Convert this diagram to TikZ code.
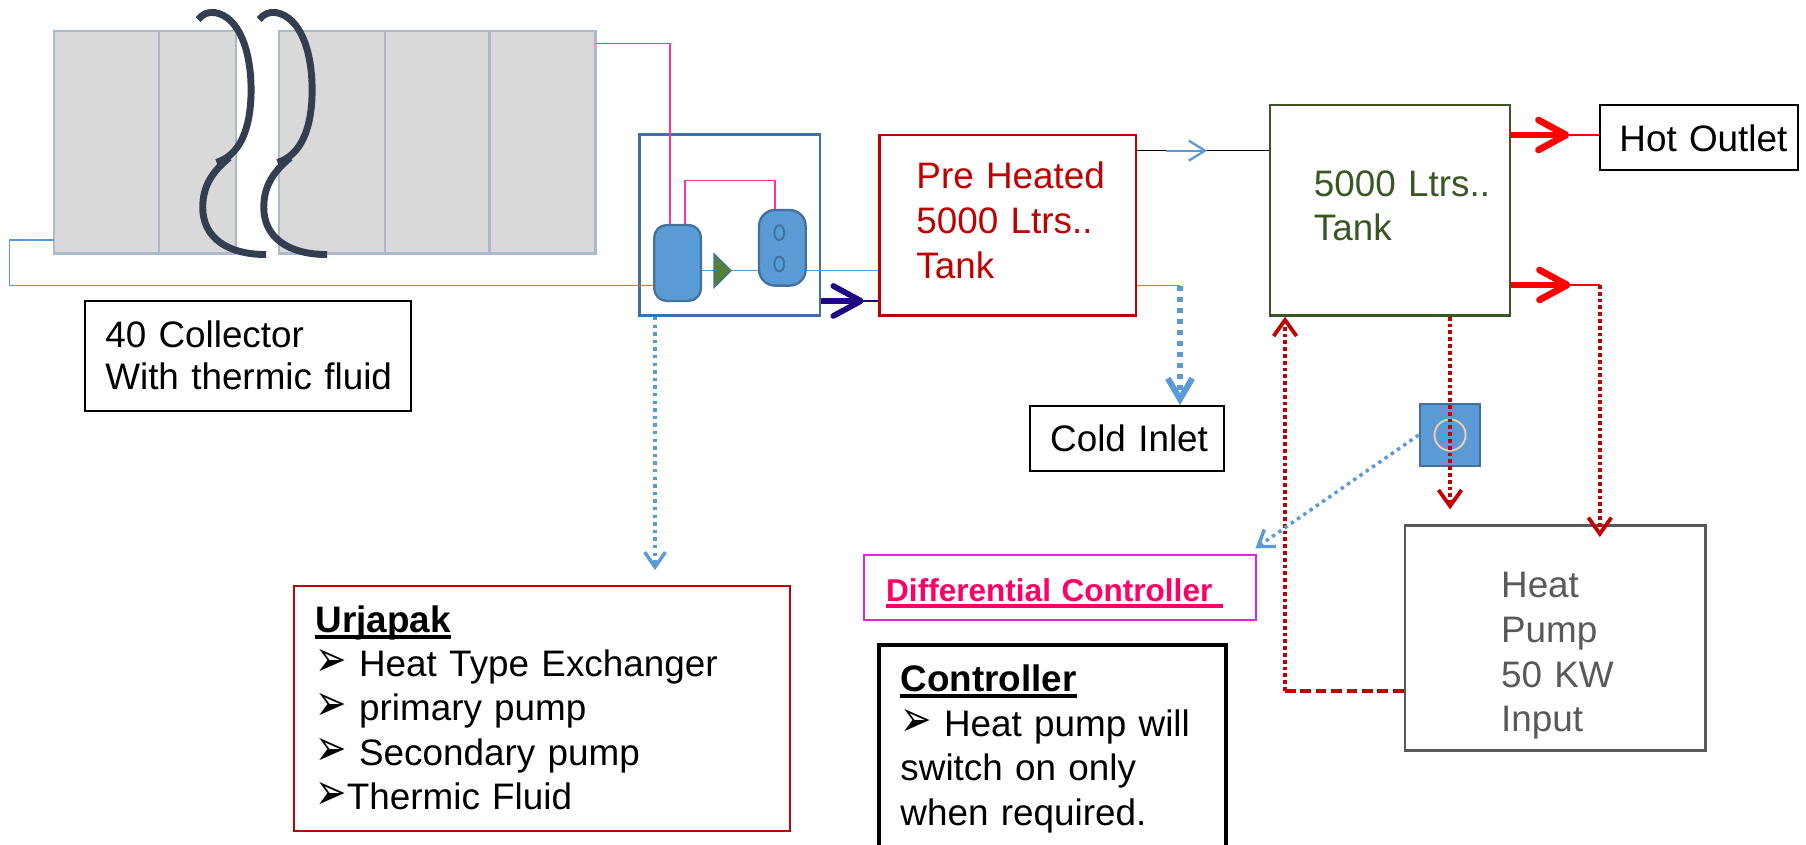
\documentclass[tikz,border=0pt]{standalone}
\usepackage{fontspec}
\setmainfont{Liberation Sans}
\newfontfamily\symfont{DejaVu Sans}
\usetikzlibrary{arrows.meta,fit}

\definecolor{pipeblue}{RGB}{91,155,213}
\definecolor{pumpedge}{RGB}{65,113,156}
\definecolor{panelgray}{RGB}{217,217,217}
\definecolor{paneledge}{RGB}{173,185,202}
\definecolor{breakdark}{RGB}{51,63,80}
\definecolor{hotpink}{RGB}{255,51,153}
\definecolor{tankred}{RGB}{192,0,0}
\definecolor{tankgreen}{RGB}{56,87,35}
\definecolor{valvegreen}{RGB}{84,130,53}
\definecolor{flownavy}{RGB}{32,8,128}
\definecolor{hpgray}{RGB}{89,89,89}
\definecolor{diffpink}{RGB}{255,0,102}
\definecolor{diffedge}{RGB}{224,40,208}
\definecolor{sensorring}{RGB}{248,203,173}

\newcommand{\arrowbullet}{{\symfont\fontsize{13}{13}\selectfont\scalebox{1.25}[1.7]{➢}}}
\newcommand{\ultext}[1]{\leavevmode\setbox0=\hbox{#1}\rlap{\rule[-2.7pt]{\wd0}{1.5pt}}\box0}

\tikzset{
  box/.style={draw, line width=1pt, inner sep=0pt},
  panel/.style={fill=panelgray, draw=paneledge, line width=1pt},
  pipe/.style={pipeblue, line width=0.6pt},
  pinkline/.style={hotpink, line width=0.6pt},
  txt/.style={anchor=base west, inner sep=0pt, align=left, text width=240pt,
    font=\fontsize{16}{19.3}\selectfont},
  fatflow/.style={line width=2.9pt, -{Straight Barb[length=12pt,width=13pt,round]}},
  reddot/.style={tankred, line width=1.65pt, dash pattern=on 1.65pt off 1.3pt,
    -{Straight Barb[length=7pt,width=10pt]}},
  bluedot/.style={pipeblue, line width=1.5pt, dash pattern=on 1.5pt off 1.8pt,
    -{Straight Barb[length=6.5pt,width=9pt]}},
}

\begin{document}
\begin{tikzpicture}[x=0.5pt,y=-0.5pt]
\useasboundingbox (0,0) rectangle (1568,733);
% collector array with break
\node[fit={(47,27) (517,220)}, inner sep=0pt] (coll) {};
\foreach \a/\b in {47/138,138/205,242/334,334/425,425/517}
  \draw[panel] (\a,27) rectangle (\b,220);
\foreach \dx in {0,53}{
  \begin{scope}[shift={(\dx,0)}]
  \draw[breakdark, line width=3pt] (172,17) .. controls (176,12) and (181,10) .. (187,11)
    .. controls (208,15) and (218,45) .. (218,78) .. controls (218,112) and (208,135) .. (188,141);
  \draw[breakdark, line width=3pt] (199,137) .. controls (183,150) and (176,163) .. (176,180)
    .. controls (176,206) and (197,221) .. (231,221);
  \end{scope}
}
\node[box, line width=0.8pt, fit={(73.5,261) (357,357)}] (colltag) {};
\node[txt, font=\fontsize{16}{18.3}\selectfont] (colltxt) at (91,302) {40 Collector\\With thermic fluid};

% heat exchanger
\node[box, draw=pumpedge, line width=1.15pt, fit={(555,117) (712,274)}] (hx) {};
\node[box, fill=pipeblue, draw=pumpedge, rounded corners=5.5pt, fit={(568,195.3) (608.6,261.3)}] (pump1) {};
\node[box, fill=pipeblue, draw=pumpedge, rounded corners=7pt, fit={(659,182.3) (699.5,248)}] (pump2) {};
\draw[pumpedge, line width=0.8pt] (676.6,202) ellipse[x radius=2.15pt, y radius=3.25pt];
\draw[pumpedge, line width=0.8pt] (676.6,229.2) ellipse[x radius=2.15pt, y radius=3.25pt];

% tanks and boxes
\node[box, draw=tankred, fit={(763.5,117) (986,274)}] (pre) {};
\node[txt, text=tankred, font=\fontsize{16}{19.5}\selectfont] (pretxt) at (795.3,164) {Pre Heated\\5000 Ltrs..\\Tank};
\node[box, draw=tankgreen, fit={(1102.5,91.2) (1311,274)}] (tank) {};
\node[txt, text=tankgreen, font=\fontsize{16}{18.8}\selectfont] (tanktxt) at (1140.3,170.8) {5000 Ltrs..\\Tank};
\node[box, line width=0.9pt, fit={(1389,91.2) (1561,147.6)}] (hot) {};
\node[txt] (hottxt) at (1405.6,131.7) {Hot Outlet};
\node[box, line width=0.9pt, fit={(894,352.5) (1062.6,408.6)}] (cold) {};
\node[txt] (coldtxt) at (911.4,392.2) {Cold Inlet};
\node[box, fill=pipeblue, draw=pumpedge, fit={(1232.7,351) (1285.2,404.3)}] (sensor) {};
\draw[sensorring, line width=0.8pt] (sensor.center) circle[radius=6.75pt];
\node[box, draw=hpgray, line width=1.15pt, fit={(1219.8,456.4) (1481,651.7)}] (hp) {};
\node[txt, text=hpgray, font=\fontsize{16}{19.5}\selectfont] (hptxt) at (1302.9,518.5) {Heat\\Pump\\50 KW\\Input};
\node[box, draw=diffedge, fit={(750.4,481.9) (1090.5,538.3)}] (diff) {};
\node[txt, text=diffpink, font=\fontsize{13.7}{16}\selectfont\bfseries] (difftxt) at (769,522.4) {\ultext{Differential Controller\ }};
\node[box, line width=1.8pt, fit={(762.8,560) (1064.2,760)}] (ctrl) {};
\node[txt] (ctrltxt) at (781.4,600.5) {\ultext{\bfseries Controller}\\\arrowbullet{} Heat pump will\\switch on only\\when required.};
\node[box, draw=tankred, fit={(255.5,508.5) (686,721.5)}] (urja) {};
\node[txt, font=\fontsize{16}{19.2}\selectfont] (urjatxt) at (273.5,549) {\ultext{\bfseries Urjapak}\\\arrowbullet{} Heat Type Exchanger\\\arrowbullet{} primary pump\\\arrowbullet{} Secondary pump\\\arrowbullet{}Thermic Fluid};

% helper points
\coordinate (pk) at (581.7,38);
\coordinate (pk2) at (594.7,156.9);
\coordinate (pk3) at (672.9,156.9);
\coordinate (bl1) at (8,208.4);
\coordinate (bl2) at (8,248);
\coordinate (hxl) at (0,235);
\coordinate (nv) at (0,261.3);
\coordinate (pt) at (0,130.8);
\coordinate (cin) at (1024.5,248);
\coordinate (h1) at (0,117.2);
\coordinate (h2) at (1389,247.4);
\coordinate (ret) at (1115.7,599.7);
\coordinate (difftip) at (1090,476);
\coordinate (hxdrop) at (568.7,495);

% pipes
\draw[pinkline] (coll.east |- pk) -- (pk) -- (pk |- pump1.north);
\draw[pinkline] (pk2 |- pump1.north) -- (pk2) -- (pk3) -- (pk3 |- pump2.north);
\draw[pipe] (coll.west |- bl1) -- (bl1) -- (bl2) -- (pump1.west |- bl2);
\draw[pipe] (pump1.east |- hxl) -- (pump2.west |- hxl);
\draw[pipe] (pump2.east |- hxl) -- (pre.west |- hxl);
\draw[fill=valvegreen, draw=pumpedge, line width=0.6pt] (620,220.5) -- (634.7,235) -- (620,249.5) -- cycle;
\draw[flownavy, line width=0.8pt] (hx.east |- nv) -- (pre.west |- nv);
\draw[flownavy, fatflow, line width=2.5pt, shorten >=6.25pt] (hx.east |- nv) -- (pre.west |- nv);
\draw[line width=0.6pt] (pre.east |- pt) -- (tank.west |- pt);
\draw[pipeblue, line width=1pt, -{Straight Barb[length=7pt,width=8.7pt]}, shorten <=12.5pt, shorten >=26.75pt] (pre.east |- pt) -- (tank.west |- pt);
\draw[pipe] (pre.east |- cin) -- (cin);
\draw[pipeblue, line width=2.6pt, dash pattern=on 2.3pt off 2.5pt, -{Straight Barb[length=9pt,width=10.6pt]}] (cin) -- (cin |- cold.north);
\draw[red, line width=0.8pt] (tank.east |- h1) -- (hot.west |- h1);
\draw[red, fatflow, shorten >=12.75pt] (tank.east |- h1) -- (hot.west |- h1);
\draw[red, line width=0.8pt] (tank.east |- h2) -- (h2);
\draw[red, fatflow, shorten >=12.75pt] (tank.east |- h2) -- (h2);
\draw[reddot, shorten >=-5.5pt] (h2) -- (h2 |- hp.north);
\draw[reddot, shorten >=6.5pt] (sensor |- tank.south) -- (sensor |- hp.north);
\draw[tankred, line width=1.75pt, dash pattern=on 4.7pt off 2pt] (hp.west |- ret) -- (ret);
\draw[reddot] (ret) -- (ret |- tank.south);
\draw[bluedot] (sensor.west) -- (difftip);
\draw[bluedot] (hxdrop |- hx.south) -- (hxdrop);
\end{tikzpicture}
\end{document}
